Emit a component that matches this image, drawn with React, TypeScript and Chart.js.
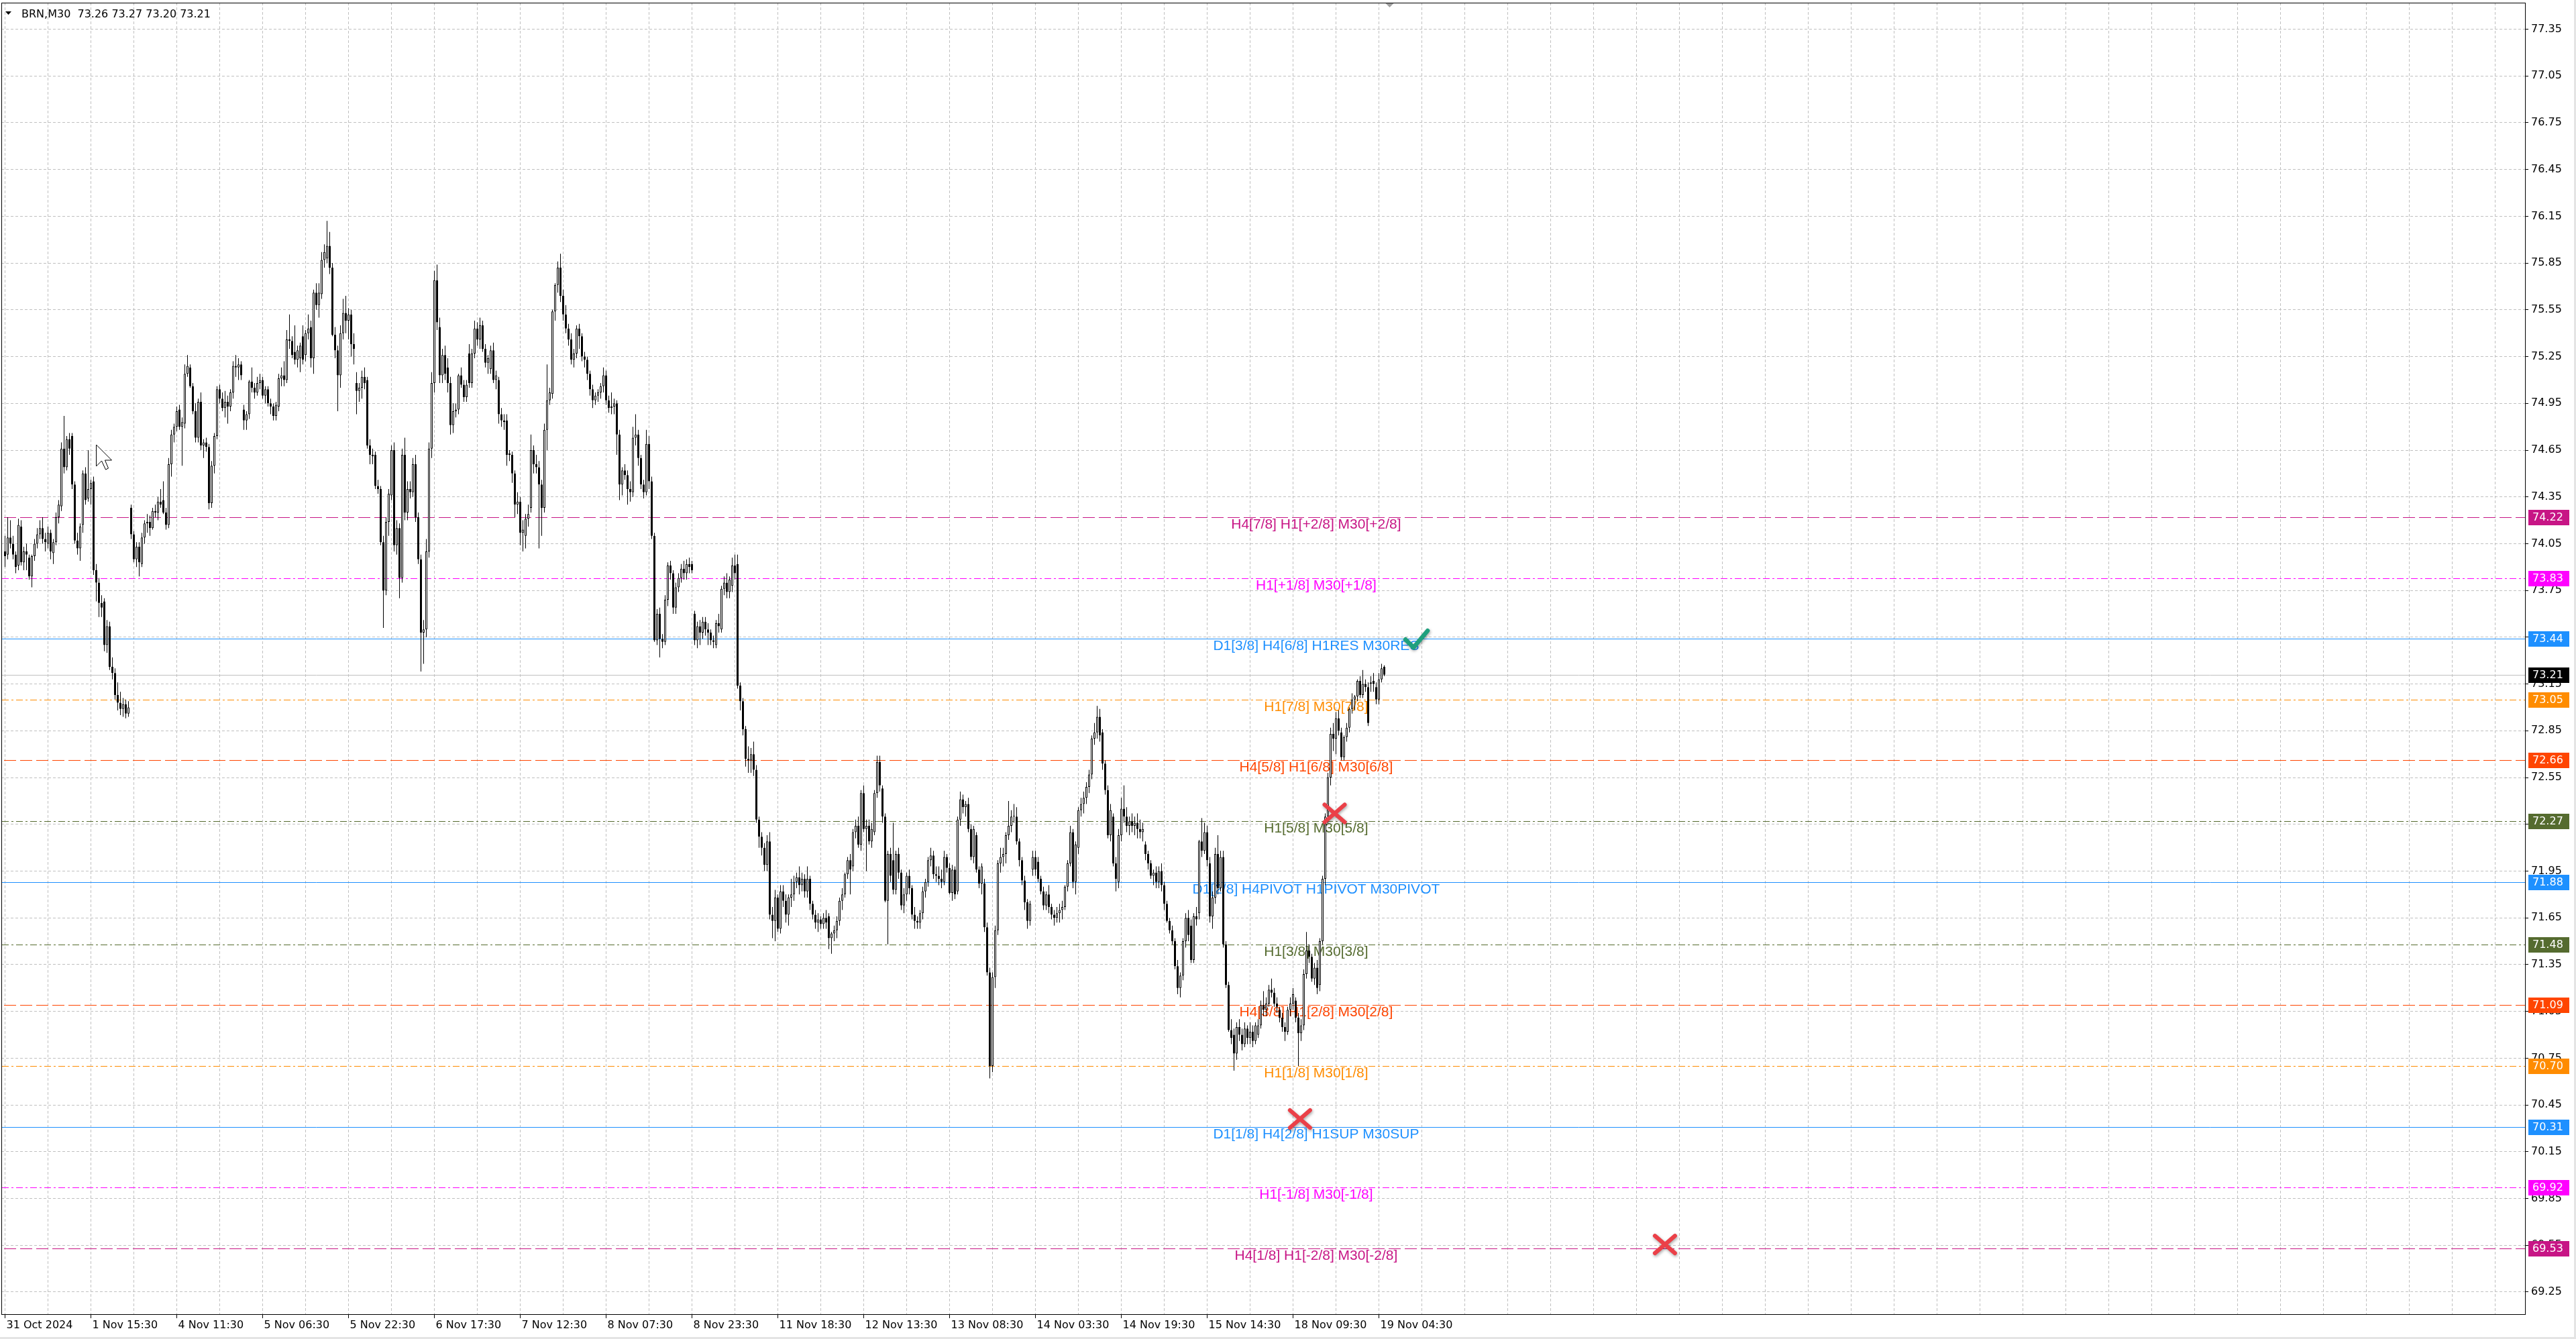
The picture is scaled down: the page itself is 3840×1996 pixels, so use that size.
import React, { useEffect, useRef } from 'react';
import { Chart, registerables } from 'chart.js';

Chart.register(...registerables);

type Bar = [number, number, number, number]; // open, high, low, close

const symbol = 'BRN,M30';

// ---- M30 candles, one array per trading day ----
const oct31: Bar[] = [
  [74.00,74.10,73.90,73.97],[73.98,74.22,73.95,74.09],[74.09,74.20,74.02,74.05],[74.05,74.10,73.95,73.98],
  [73.98,74.00,73.86,73.90],[73.91,74.21,73.88,74.17],[74.16,74.20,73.91,73.93],
];
const nov1: Bar[] = [
  [73.93,74.03,73.88,74.00],[74.00,74.05,73.88,73.98],[73.96,73.98,73.82,73.84],[73.84,73.98,73.77,73.97],
  [73.97,74.08,73.94,74.05],[74.05,74.15,74.02,74.11],[74.11,74.20,74.08,74.15],[74.15,74.22,74.05,74.08],
  [74.08,74.12,74.00,74.06],[74.05,74.16,74.02,74.12],[74.12,74.14,73.95,74.00],[73.99,74.08,73.92,74.06],
  [74.06,74.25,74.04,74.22],[74.22,74.33,74.18,74.30],[74.29,74.70,74.26,74.66],[74.66,74.87,74.50,74.54],
  [74.54,74.74,74.52,74.72],[74.72,74.76,74.62,74.66],[74.74,74.76,74.40,74.43],[74.43,74.45,74.05,74.07],
  [74.07,74.12,73.98,74.02],[74.02,74.18,73.94,74.16],[74.17,74.52,74.12,74.50],[74.50,74.54,74.30,74.33],
  [74.34,74.65,74.32,74.40],[74.40,74.46,74.30,74.44],[74.45,74.48,73.85,73.88],[73.88,73.92,73.68,73.80],
  [73.80,73.83,73.58,73.67],[73.67,73.72,73.58,73.64],[73.68,73.70,73.36,73.40],[73.40,73.56,73.35,73.52],
  [73.52,73.55,73.24,73.26],[73.26,73.32,73.18,73.22],[73.22,73.25,73.05,73.08],[73.08,73.16,72.98,73.03],
  [73.03,73.10,72.95,72.99],[72.99,73.06,72.94,73.02],[73.02,73.05,72.93,72.96],[72.96,73.04,72.94,73.00],
];
const nov4: Bar[] = [
  [74.28,74.30,74.08,74.11],[74.11,74.13,73.93,73.95],[73.95,74.06,73.90,74.03],[74.03,74.06,73.84,73.93],
  [73.92,74.12,73.90,74.09],[74.09,74.20,74.05,74.18],[74.18,74.24,74.12,74.19],[74.19,74.23,74.10,74.15],
  [74.15,74.28,74.14,74.26],[74.26,74.30,74.22,74.25],[74.25,74.35,74.20,74.32],[74.32,74.40,74.28,74.30],
  [74.33,74.45,74.24,74.25],[74.25,74.28,74.14,74.17],[74.17,74.60,74.15,74.56],[74.56,74.78,74.48,74.75],
  [74.75,74.82,74.70,74.80],[74.80,74.93,74.77,74.90],[74.91,74.94,74.78,74.80],[74.80,74.86,74.55,74.83],
  [74.82,75.20,74.79,75.14],[75.14,75.26,75.12,75.19],[75.18,75.20,75.05,75.06],[75.06,75.08,74.88,74.90],
  [74.90,74.95,74.70,74.73],[74.73,74.98,74.70,74.96],[74.96,75.02,74.65,74.68],[74.68,74.72,74.60,74.70],
  [74.70,74.73,74.64,74.67],[74.67,74.69,74.27,74.31],[74.31,74.58,74.28,74.55],[74.55,74.76,74.50,74.74],
  [74.74,75.06,74.72,75.04],[75.04,75.07,74.95,74.98],[74.98,75.02,74.90,74.92],[74.92,75.03,74.86,74.96],
  [74.96,75.00,74.82,74.93],[74.93,75.04,74.90,75.02],[75.02,75.22,74.98,75.19],[75.19,75.26,75.12,75.18],
  [75.18,75.24,75.10,75.20],[75.20,75.22,75.10,75.13],
];
const nov5: Bar[] = [
  [74.91,74.94,74.78,74.84],[74.84,74.90,74.78,74.88],[74.88,75.10,74.85,75.09],[75.09,75.18,75.02,75.05],
  [75.05,75.08,74.98,75.02],[75.02,75.12,75.00,75.08],[75.08,75.14,75.04,75.10],[75.10,75.12,74.98,75.00],
  [75.00,75.06,74.95,75.04],[75.04,75.06,74.93,74.95],[74.95,74.98,74.88,74.93],[74.93,74.95,74.84,74.87],
  [74.87,74.96,74.84,74.94],[74.93,75.14,74.90,75.11],[75.11,75.18,75.06,75.13],[75.13,75.22,75.06,75.10],
  [75.10,75.42,75.08,75.36],[75.36,75.52,75.30,75.35],[75.35,75.38,75.24,75.26],[75.28,75.45,75.20,75.23],
  [75.23,75.32,75.18,75.29],[75.24,75.34,75.15,75.32],[75.38,75.45,75.20,75.23],[75.26,75.42,75.22,75.40],
  [75.40,75.52,75.36,75.43],[75.44,75.48,75.18,75.24],[75.24,75.68,75.14,75.66],[75.66,75.72,75.55,75.58],
  [75.58,75.72,75.50,75.66],[75.65,75.92,75.62,75.87],[75.87,75.97,75.82,75.92],[75.88,76.12,75.85,75.96],
  [75.96,76.05,75.78,75.82],[75.82,75.85,75.38,75.39],[75.39,75.44,75.24,75.29],[75.29,75.32,74.90,75.13],
  [75.13,75.45,75.05,75.40],[75.40,75.62,75.36,75.53],[75.53,75.64,75.40,75.48],[75.48,75.56,75.36,75.52],
  [75.52,75.55,75.25,75.33],[75.33,75.40,75.20,75.30],
];
const nov6: Bar[] = [
  [75.08,75.15,74.88,75.03],[75.03,75.08,74.96,75.05],[75.05,75.16,74.98,75.12],[75.12,75.18,75.04,75.08],
  [75.10,75.12,74.66,74.68],[74.68,74.72,74.56,74.62],[74.62,74.66,74.56,74.61],[74.62,74.64,74.40,74.42],
  [74.42,74.46,74.37,74.40],[74.40,74.42,74.04,74.06],[74.06,74.10,73.51,73.75],[73.75,74.22,73.72,74.19],
  [74.19,74.40,74.10,74.37],[74.36,74.68,74.33,74.65],[74.65,74.70,74.00,74.04],[74.04,74.20,73.98,74.15],
  [74.15,74.18,73.70,73.83],[73.83,74.66,73.80,74.62],[74.62,74.73,74.20,74.25],[74.25,74.45,74.20,74.40],
  [74.40,74.45,74.34,74.38],[74.38,74.60,74.35,74.56],[74.56,74.62,74.19,74.22],[74.22,74.25,73.92,73.95],
  [73.95,73.98,73.23,73.48],[73.48,73.56,73.28,73.50],[73.50,74.08,73.45,74.00],[74.00,74.70,73.96,74.66],
  [74.66,75.15,74.60,75.08],[75.08,75.80,75.02,75.74],[75.74,75.84,75.42,75.47],[75.44,75.50,75.08,75.13],
  [75.13,75.30,75.08,75.26],[75.26,75.32,75.10,75.14],[75.18,75.24,75.02,75.08],[75.08,75.12,74.75,74.81],
  [74.81,74.95,74.76,74.90],[74.90,74.95,74.86,74.91],[74.91,75.14,74.88,75.13],[75.13,75.18,75.05,75.07],
  [75.07,75.10,74.96,74.99],[74.99,75.10,74.96,75.07],
];
const nov7: Bar[] = [
  [75.27,75.33,75.05,75.08],[75.08,75.30,75.05,75.27],[75.27,75.48,75.24,75.43],[75.43,75.47,75.32,75.36],
  [75.36,75.50,75.30,75.45],[75.45,75.48,75.28,75.30],[75.30,75.33,75.18,75.21],[75.21,75.26,75.14,75.24],
  [75.17,75.32,75.14,75.29],[75.29,75.34,75.08,75.10],[75.10,75.16,75.04,75.13],[75.10,75.12,74.82,74.88],
  [74.88,74.92,74.80,74.84],[74.84,74.88,74.78,74.83],[74.84,74.88,74.55,74.62],[74.62,74.65,74.58,74.63],
  [74.62,74.64,74.44,74.50],[74.50,74.52,74.22,74.30],[74.30,74.38,74.24,74.32],[74.32,74.35,74.04,74.12],
  [74.12,74.20,74.00,74.14],[74.10,74.24,74.02,74.21],[74.21,74.30,74.16,74.24],[74.28,74.75,74.25,74.65],
  [74.65,74.68,74.50,74.56],[74.56,74.62,74.50,74.54],[74.54,74.58,74.02,74.43],[74.43,74.46,74.10,74.28],
  [74.28,74.82,74.25,74.78],[74.78,75.20,74.65,74.97],[74.97,75.05,74.94,75.02],[75.01,75.55,74.98,75.54],
  [75.54,75.72,75.48,75.71],[75.71,75.86,75.66,75.82],[75.82,75.91,75.60,75.64],[75.64,75.68,75.48,75.52],
  [75.52,75.58,75.40,75.43],[75.43,75.46,75.32,75.36],[75.36,75.40,75.20,75.23],[75.23,75.30,75.18,75.27],
  [75.27,75.45,75.24,75.43],[75.43,75.46,75.30,75.38],
];
const nov8: Bar[] = [
  [75.38,75.40,75.22,75.25],[75.25,75.28,75.18,75.23],[75.23,75.25,75.10,75.14],[75.14,75.16,75.00,75.04],
  [75.04,75.07,74.92,74.97],[74.97,75.02,74.94,75.00],[75.00,75.04,74.96,75.02],[75.02,75.08,74.98,75.06],
  [75.06,75.18,75.02,75.13],[75.13,75.16,74.94,74.97],[74.97,75.00,74.89,74.92],[74.92,75.02,74.88,74.93],
  [74.93,74.98,74.88,74.95],[74.95,74.97,74.62,74.75],[74.75,74.78,74.33,74.43],[74.43,74.54,74.36,74.52],
  [74.52,74.56,74.46,74.49],[74.49,74.52,74.30,74.40],[74.40,74.45,74.32,74.38],[74.38,74.80,74.35,74.73],
  [74.73,74.88,74.68,74.75],[74.75,74.78,74.55,74.60],[74.60,74.62,74.40,74.43],[74.43,74.46,74.34,74.38],
  [74.38,74.78,74.36,74.69],[74.69,74.74,74.40,74.45],[74.45,74.48,74.08,74.10],[74.10,74.12,73.42,73.43],
  [73.43,73.63,73.40,73.60],[73.60,73.64,73.32,73.44],[73.44,73.47,73.38,73.42],[73.42,73.72,73.40,73.69],
  [73.69,73.93,73.65,73.91],[73.91,73.94,73.82,73.86],[73.86,73.88,73.60,73.64],[73.64,73.80,73.60,73.77],
  [73.77,73.86,73.74,73.83],[73.83,73.92,73.80,73.89],[73.89,73.94,73.82,73.86],[73.86,73.95,73.82,73.92],
  [73.92,73.96,73.86,73.90],[73.92,73.94,73.86,73.88],
];
const nov11: Bar[] = [
  [73.60,73.62,73.40,73.43],[73.43,73.55,73.38,73.52],[73.52,73.56,73.40,73.48],[73.48,73.58,73.44,73.55],
  [73.55,73.58,73.46,73.50],[73.50,73.54,73.40,73.48],[73.48,73.50,73.40,73.43],[73.43,73.46,73.38,73.42],
  [73.40,73.56,73.38,73.54],[73.54,73.60,73.48,73.52],[73.50,73.78,73.48,73.76],[73.76,73.84,73.72,73.80],
  [73.80,73.86,73.70,73.74],[73.74,73.84,73.70,73.82],[73.78,73.96,73.74,73.91],[73.91,73.98,73.82,73.86],
  [73.92,73.98,73.12,73.14],[73.14,73.16,72.98,73.04],[73.04,73.06,72.82,72.86],[72.86,72.88,72.62,72.67],
  [72.67,72.75,72.58,72.66],[72.66,72.74,72.58,72.70],[72.70,72.78,72.56,72.60],[72.60,72.63,72.26,72.28],
  [72.28,72.30,72.10,72.17],[72.17,72.20,72.05,72.10],[72.10,72.13,71.95,71.99],[71.99,72.18,71.95,72.14],
  [72.14,72.20,71.64,71.67],[71.67,71.72,71.52,71.63],[71.63,71.83,71.50,71.78],[71.78,71.80,71.56,71.58],
  [71.58,71.86,71.55,71.82],[71.82,71.86,71.72,71.76],[71.76,71.80,71.62,71.67],[71.67,71.80,71.60,71.78],
  [71.78,71.90,71.72,71.80],[71.80,71.92,71.76,71.88],[71.88,71.94,71.84,71.91],[71.91,71.98,71.80,71.86],
  [71.86,71.94,71.82,71.90],[71.90,71.93,71.78,71.82],
];
const nov12: Bar[] = [
  [71.82,71.98,71.78,71.90],[71.90,71.92,71.70,71.74],[71.74,71.76,71.64,71.67],[71.67,71.70,71.58,71.62],
  [71.62,71.68,71.56,71.64],[71.64,71.66,71.58,71.61],[71.61,71.68,71.58,71.65],[71.65,71.70,71.58,71.62],
  [71.66,71.68,71.45,71.52],[71.52,71.56,71.42,71.55],[71.55,71.60,71.50,71.57],[71.57,71.66,71.52,71.63],
  [71.63,71.78,71.60,71.76],[71.76,71.84,71.70,71.80],[71.80,71.94,71.78,71.93],[71.93,72.04,71.90,72.02],
  [72.02,72.06,71.80,71.96],[71.98,72.22,71.95,72.20],[72.20,72.28,72.16,72.24],[72.24,72.30,72.10,72.12],
  [72.12,72.47,72.08,72.45],[72.45,72.50,72.20,72.22],[72.22,72.28,71.95,72.24],[72.24,72.28,72.12,72.14],
  [72.14,72.26,72.10,72.22],[72.20,72.47,72.18,72.45],[72.45,72.69,72.42,72.65],[72.65,72.69,72.46,72.50],
  [72.48,72.50,72.26,72.30],[72.30,72.32,71.75,71.76],[71.76,72.08,71.48,72.06],[72.06,72.10,71.88,71.92],
  [72.02,72.26,71.80,71.83],[71.83,72.08,71.80,72.06],[72.06,72.10,71.90,71.94],[71.94,71.96,71.70,71.73],
  [71.73,71.84,71.68,71.80],[71.80,71.94,71.76,71.92],[71.92,71.96,71.80,71.84],[71.84,71.86,71.64,71.67],
  [71.67,71.72,71.58,71.63],[71.63,71.66,71.58,71.62],
];
const nov13: Bar[] = [
  [71.62,71.70,71.58,71.68],[71.68,71.85,71.64,71.82],[71.82,71.90,71.78,71.88],[71.88,72.04,71.85,72.02],
  [72.02,72.10,71.98,72.05],[72.05,72.08,71.90,71.93],[71.93,71.98,71.88,71.92],[71.92,71.98,71.86,71.90],
  [71.90,71.96,71.84,71.88],[71.88,72.08,71.86,72.04],[72.04,72.06,71.94,71.97],[71.97,72.00,71.80,71.81],
  [71.81,71.99,71.76,71.96],[71.96,71.98,71.77,71.80],[71.82,72.30,71.80,72.28],[72.28,72.46,72.24,72.41],
  [72.41,72.44,72.32,72.36],[72.36,72.40,72.30,72.38],[72.38,72.42,72.20,72.22],[72.22,72.25,72.02,72.04],
  [72.04,72.24,72.00,72.22],[72.18,72.20,71.94,71.96],[71.96,71.98,71.84,71.87],[71.87,72.00,71.80,71.98],
  [71.87,71.90,71.56,71.59],[71.59,71.62,71.28,71.30],[71.30,71.33,70.62,70.70],[70.70,71.30,70.66,71.27],
  [71.27,71.60,71.20,71.57],[71.57,72.02,71.54,72.00],[72.00,72.10,71.94,72.04],[72.04,72.10,71.98,72.06],
  [72.06,72.20,72.00,72.18],[72.18,72.40,72.15,72.24],[72.24,72.34,72.20,72.30],[72.30,72.38,72.26,72.30],
  [72.30,72.36,72.12,72.14],[72.14,72.16,71.98,72.02],[72.02,72.04,71.86,71.89],[71.89,71.92,71.70,71.75],
  [71.75,71.77,71.58,71.63],[71.63,71.76,71.60,71.74],
];
const nov14: Bar[] = [
  [71.96,72.08,71.92,72.04],[72.04,72.08,71.92,71.96],[72.01,72.04,71.88,71.90],[71.90,71.92,71.80,71.82],
  [71.82,71.85,71.70,71.73],[71.73,71.82,71.70,71.80],[71.80,71.86,71.68,71.72],[71.72,71.74,71.64,71.67],
  [71.67,71.70,71.60,71.65],[71.65,71.72,71.62,71.68],[71.68,71.74,71.62,71.70],[71.70,71.76,71.64,71.72],
  [71.72,71.86,71.70,71.85],[71.85,72.02,71.82,72.00],[72.00,72.24,71.98,72.20],[72.20,72.22,71.84,71.88],
  [71.88,72.14,71.80,72.12],[72.10,72.36,72.06,72.34],[72.34,72.42,72.30,72.38],[72.38,72.46,72.32,72.42],
  [72.42,72.52,72.38,72.49],[72.49,72.60,72.45,72.57],[72.57,72.82,72.54,72.80],[72.80,72.90,72.76,72.84],
  [72.84,73.01,72.80,72.94],[72.94,72.99,72.78,72.82],[72.84,72.86,72.60,72.64],[72.64,72.66,72.44,72.47],
  [72.47,72.50,72.16,72.18],[72.18,72.38,72.14,72.34],[72.30,72.32,71.98,72.00],[72.00,72.04,71.82,71.90],
  [71.88,72.22,71.84,72.18],[72.18,72.42,72.14,72.35],[72.35,72.50,72.26,72.30],[72.30,72.36,72.20,72.24],
  [72.24,72.30,72.18,72.27],[72.27,72.32,72.20,72.24],[72.24,72.30,72.18,72.26],[72.26,72.32,72.16,72.22],
  [72.22,72.28,72.16,72.20],[72.20,72.26,72.14,72.22],
];
const nov15: Bar[] = [
  [72.12,72.14,72.02,72.06],[72.06,72.08,71.96,72.00],[72.00,72.02,71.90,71.92],[71.92,71.96,71.86,71.94],
  [71.94,71.98,71.84,71.88],[71.88,71.98,71.84,71.95],[71.95,72.00,71.82,71.86],[71.86,71.88,71.70,71.74],
  [71.74,71.76,71.62,71.63],[71.63,71.65,71.55,71.57],[71.57,71.60,71.48,71.50],[71.50,71.52,71.32,71.34],
  [71.34,71.38,71.16,71.20],[71.20,71.30,71.14,71.28],[71.28,71.52,71.25,71.50],[71.50,71.68,71.46,71.65],
  [71.65,71.70,71.50,71.54],[71.60,71.64,71.36,71.38],[71.38,71.68,71.36,71.66],[71.66,71.72,71.60,71.64],
  [71.68,72.15,71.64,72.14],[72.14,72.29,72.04,72.08],[72.08,72.26,72.06,72.20],[72.20,72.24,71.98,72.02],
  [72.00,72.04,71.62,71.66],[71.66,71.82,71.58,71.78],[71.78,72.10,71.74,72.06],[72.06,72.18,71.80,71.84],
  [71.84,72.08,71.82,72.04],[72.04,72.08,71.46,71.48],[71.48,71.50,71.20,71.22],[71.22,71.24,70.92,70.93],
  [70.93,71.00,70.84,70.88],[70.90,70.94,70.67,70.78],[70.78,70.98,70.74,70.95],[70.95,71.00,70.86,70.90],
  [70.90,70.94,70.80,70.84],[70.84,70.98,70.82,70.94],[70.94,70.96,70.84,70.88],[70.88,70.98,70.84,70.92],
  [70.92,70.96,70.82,70.86],[70.86,70.98,70.84,70.96],
];
const nov18: Bar[] = [
  [70.90,71.00,70.88,70.96],[70.96,71.12,70.94,71.09],[71.09,71.18,71.02,71.06],[71.06,71.14,71.02,71.10],
  [71.10,71.22,71.08,71.19],[71.19,71.26,71.14,71.17],[71.17,71.20,71.08,71.10],[71.10,71.14,71.04,71.08],
  [71.06,71.08,70.98,71.01],[71.01,71.04,70.92,70.95],[70.95,70.98,70.86,70.92],[70.92,71.08,70.90,71.06],
  [71.06,71.14,71.02,71.10],[71.10,71.20,71.06,71.16],[71.12,71.14,70.98,71.01],[71.01,71.04,70.70,70.91],
  [70.91,71.00,70.86,70.96],[70.96,71.32,70.93,71.29],[71.29,71.56,71.26,71.44],[71.44,71.48,71.36,71.40],
  [71.40,71.42,71.24,71.26],[71.26,71.36,71.22,71.33],[71.33,71.38,71.16,71.20],[71.22,71.52,71.18,71.50],
  [71.50,71.92,71.48,71.90],[71.90,72.32,71.86,72.30],[72.30,72.58,72.26,72.55],[72.55,72.87,72.50,72.83],
  [72.83,72.90,72.72,72.80],[72.80,72.97,72.70,72.93],[72.93,72.98,72.82,72.85],[72.84,72.87,72.66,72.68],
  [72.68,72.82,72.66,72.81],[72.81,72.90,72.78,72.87],[72.87,73.00,72.84,72.99],[72.99,73.09,72.96,73.05],
  [73.05,73.08,72.98,73.07],[73.07,73.18,73.04,73.17],[73.17,73.20,73.06,73.08],[73.08,73.24,73.06,73.15],
  [73.15,73.18,73.10,73.13],[73.13,73.16,72.88,72.90],
];
const nov19: Bar[] = [
  [73.15,73.20,73.10,73.16],[73.17,73.22,73.10,73.15],[73.13,73.16,73.02,73.05],[73.05,73.22,73.02,73.18],
  [73.18,73.28,73.16,73.25],[73.26,73.27,73.20,73.21],
];

// ---- axis ticks ----
const xLabels = [
  '31 Oct 2024', '1 Nov 15:30', '4 Nov 11:30', '5 Nov 06:30', '5 Nov 22:30', '6 Nov 17:30',
  '7 Nov 12:30', '8 Nov 07:30', '8 Nov 23:30', '11 Nov 18:30', '12 Nov 13:30', '13 Nov 08:30',
  '14 Nov 03:30', '14 Nov 19:30', '15 Nov 14:30', '18 Nov 09:30', '19 Nov 04:30',
];
const yTicks = [
  69.25, 69.55, 69.85, 70.15, 70.45, 70.75, 71.05, 71.35, 71.65, 71.95, 72.25, 72.55, 72.85, 73.15,
  73.45, 73.75, 74.05, 74.35, 74.65, 74.95, 75.25, 75.55, 75.85, 76.15, 76.45, 76.75, 77.05, 77.35,
];

// ---- Murrey-style levels ----
const levelPrices = [74.22, 73.83, 73.44, 73.05, 72.66, 72.27, 71.88, 71.48, 71.09, 70.70, 70.31, 69.92, 69.53];
const levelTexts = [
  'H4[7/8] H1[+2/8] M30[+2/8]', 'H1[+1/8] M30[+1/8]', 'D1[3/8] H4[6/8] H1RES M30RES', 'H1[7/8] M30[7/8]',
  'H4[5/8] H1[6/8] M30[6/8]', 'H1[5/8] M30[5/8]', 'D1[2/8] H4PIVOT H1PIVOT M30PIVOT', 'H1[3/8] M30[3/8]',
  'H4[3/8] H1[2/8] M30[2/8]', 'H1[1/8] M30[1/8]', 'D1[1/8] H4[2/8] H1SUP M30SUP', 'H1[-1/8] M30[-1/8]',
  'H4[1/8] H1[-2/8] M30[-2/8]',
];
const levelColors = ['#C71585', '#FF00FF', '#1E90FF', '#FF8C00', '#FF4500', '#556B2F', '#1E90FF', '#556B2F', '#FF4500', '#FF8C00', '#1E90FF', '#FF00FF', '#C71585'];
const levelStyles = ['dash', 'dashdot', 'solid', 'dashdot', 'dash', 'dashdot', 'solid', 'dashdot', 'dash', 'dashdot', 'solid', 'dashdot', 'dash'];

// ---- signal marks (bar index, price) ----
const crossBars = [495.5, 482.6, 618.6];
const crossPrices = [72.32, 70.36, 69.555];
const checkBars = [525.9];
const checkPrices = [73.44];

// ---- layout constants ----
const W = 3840;
const H = 1996;
const X_MIN = -1.375;
const X_MAX = 939.125;
const Y_MIN = 69.108;
const Y_MAX = 77.52;
const LABEL_EVERY = 32;
const GRID_EVERY = 16;
const LEVEL_TEXT_BAR = 488.6;
const SHIFT_BAR = 516;

const candles: Bar[] = [oct31, nov1, nov4, nov5, nov6, nov7, nov8, nov11, nov12, nov13, nov14, nov15, nov18, nov19].flat();

const dashFor = (s: string) => (s === 'dash' ? [18, 6] : s === 'dashdot' ? [10, 4, 3, 4] : []);

export default function App() {
  const ref = useRef<HTMLCanvasElement | null>(null);

  useEffect(() => {
    document.body.style.margin = '0';
    const canvas = ref.current;
    if (!canvas) return;

    const last = candles[candles.length - 1];
    const bid = last[3];

    const levelDatasets = levelPrices.map((p, k) => ({
      type: 'line' as const,
      data: [{ x: X_MIN - 5, y: p }, { x: X_MAX + 5, y: p }],
      borderColor: levelColors[k],
      borderWidth: 1,
      borderDash: dashFor(levelStyles[k]),
      pointRadius: 0,
      order: 10,
      snapY: p,
    }));

    const gridTicks: number[] = [];
    for (let v = 0; v <= X_MAX; v += GRID_EVERY) gridTicks.push(v);

    const fontAxis = { family: '"DejaVu Sans", Verdana, sans-serif', size: 16 };

    const overlay = {
      id: 'mt4overlay',
      beforeDraw(chart: any) {
        const { ctx } = chart;
        ctx.save();
        ctx.fillStyle = '#ffffff';
        ctx.fillRect(0, 0, W, H);
        ctx.restore();
      },
      beforeDatasetDraw(chart: any, args: any) {
        const ds: any = chart.data.datasets[args.index];
        if (ds && typeof ds.snapY === 'number') {
          const y = chart.scales.y.getPixelForValue(ds.snapY);
          chart.ctx.save();
          chart.ctx.translate(0, Math.round(y) + 0.5 - y);
        }
      },
      afterDatasetDraw(chart: any, args: any) {
        const ds: any = chart.data.datasets[args.index];
        if (ds && typeof ds.snapY === 'number') chart.ctx.restore();
      },
      beforeDatasetsDraw(chart: any) {
        const { ctx, chartArea: a, scales } = chart;
        const xs = scales.x, ys = scales.y;
        ctx.save();
        ctx.beginPath();
        ctx.rect(a.left, a.top, a.right - a.left, a.bottom - a.top);
        ctx.clip();
        ctx.font = '21px "Liberation Sans", Arial, sans-serif';
        ctx.textAlign = 'center';
        ctx.textBaseline = 'top';
        const cx = xs.getPixelForValue(LEVEL_TEXT_BAR);
        levelPrices.forEach((p, k) => {
          ctx.fillStyle = levelColors[k];
          ctx.fillText(levelTexts[k], cx, Math.round(ys.getPixelForValue(p)) + 1);
        });
        ctx.restore();
      },
      afterDatasetsDraw(chart: any) {
        const { ctx, chartArea: a, scales } = chart;
        const xs = scales.x, ys = scales.y;

        // marks
        ctx.save();
        ctx.beginPath();
        ctx.rect(a.left, a.top, a.right - a.left, a.bottom - a.top);
        ctx.clip();
        ctx.lineCap = 'round';
        ctx.lineJoin = 'round';
        ctx.shadowColor = 'rgba(0,0,0,0.35)';
        ctx.shadowBlur = 4;
        ctx.shadowOffsetX = 1;
        ctx.shadowOffsetY = 2;
        crossBars.forEach((b, k) => {
          const px = xs.getPixelForValue(b);
          const py = ys.getPixelForValue(crossPrices[k]);
          ctx.strokeStyle = '#EB4048';
          ctx.lineWidth = 6;
          ctx.beginPath();
          ctx.moveTo(px - 15, py - 13);
          ctx.lineTo(px + 15, py + 13);
          ctx.moveTo(px + 15, py - 13);
          ctx.lineTo(px - 15, py + 13);
          ctx.stroke();
        });
        checkBars.forEach((b, k) => {
          const px = xs.getPixelForValue(b);
          const py = ys.getPixelForValue(checkPrices[k]);
          ctx.strokeStyle = '#1FA07E';
          ctx.lineWidth = 6.5;
          ctx.beginPath();
          ctx.moveTo(px - 16, py + 1);
          ctx.lineTo(px - 4, py + 13);
          ctx.lineTo(px + 17, py - 12);
          ctx.stroke();
        });
        ctx.restore();

        // mouse cursor left in the screenshot
        ctx.save();
        const cx0 = 143.5, cy0 = 663;
        ctx.beginPath();
        ctx.moveTo(cx0, cy0);
        ctx.lineTo(cx0, cy0 + 32);
        ctx.lineTo(cx0 + 8, cy0 + 24);
        ctx.lineTo(cx0 + 14, cy0 + 37);
        ctx.lineTo(cx0 + 18, cy0 + 35);
        ctx.lineTo(cx0 + 13, cy0 + 23);
        ctx.lineTo(cx0 + 23, cy0 + 23);
        ctx.closePath();
        ctx.fillStyle = '#ffffff';
        ctx.fill();
        ctx.strokeStyle = '#000000';
        ctx.lineWidth = 1;
        ctx.stroke();
        ctx.restore();

        // frame
        ctx.save();
        ctx.strokeStyle = '#000000';
        ctx.lineWidth = 1;
        ctx.strokeRect(a.left + 0.5, a.top + 0.5, a.right - a.left, a.bottom - a.top);
        ctx.restore();

        // chart shift marker
        ctx.save();
        const sx = xs.getPixelForValue(SHIFT_BAR);
        ctx.fillStyle = '#a0a0a0';
        ctx.beginPath();
        ctx.moveTo(sx - 6, a.top + 1);
        ctx.lineTo(sx + 6, a.top + 1);
        ctx.lineTo(sx, a.top + 7);
        ctx.closePath();
        ctx.fill();
        ctx.restore();

        // price boxes on the axis
        ctx.save();
        ctx.font = '16px "DejaVu Sans", Verdana, sans-serif';
        ctx.textBaseline = 'middle';
        ctx.textAlign = 'left';
        const box = (p: number, bg: string) => {
          const py = Math.round(ys.getPixelForValue(p));
          ctx.fillStyle = bg;
          ctx.fillRect(a.right + 5, py - 11, 61, 23);
          ctx.fillStyle = '#ffffff';
          ctx.fillText(p.toFixed(2), a.right + 11, py + 1);
        };
        levelPrices.forEach((p, k) => box(p, levelColors[k]));
        box(bid, '#000000');
        ctx.restore();

        // header
        ctx.save();
        ctx.fillStyle = '#000000';
        ctx.beginPath();
        ctx.moveTo(8, 17);
        ctx.lineTo(17, 17);
        ctx.lineTo(12.5, 22);
        ctx.closePath();
        ctx.fill();
        ctx.font = '16px "DejaVu Sans", Verdana, sans-serif';
        ctx.textBaseline = 'alphabetic';
        ctx.textAlign = 'left';
        ctx.fillText(`${symbol}  ${last[0].toFixed(2)} ${last[1].toFixed(2)} ${last[2].toFixed(2)} ${last[3].toFixed(2)}`, 32, 26);
        ctx.restore();

        // window edges
        ctx.save();
        ctx.fillStyle = '#e4e4e4';
        ctx.fillRect(0, H - 3, W, 3);
        ctx.fillRect(W - 3, 0, 3, H);
        ctx.restore();
      },
    };

    const chart = new Chart(canvas, {
      type: 'bar',
      data: {
        datasets: [
          ...levelDatasets,
          {
            type: 'line' as const,
            data: [{ x: X_MIN - 5, y: bid }, { x: X_MAX + 5, y: bid }],
            borderColor: '#c0c0c0',
            borderWidth: 1,
            pointRadius: 0,
            order: 9,
            snapY: bid,
          },
          {
            type: 'bar' as const,
            data: candles.map((c, i) => ({ x: i, y: [c[2], c[1]] })),
            barThickness: 1,
            backgroundColor: '#000000',
            borderWidth: 0,
            grouped: false,
            inflateAmount: 0,
            order: 2,
          },
          {
            type: 'bar' as const,
            data: candles.map((c, i) => ({ x: i, y: [c[0], c[3]] })),
            barThickness: 3,
            backgroundColor: candles.map((c) => (c[3] >= c[0] ? '#ffffff' : '#000000')),
            borderColor: '#000000',
            borderWidth: 1,
            borderSkipped: false,
            minBarLength: 1,
            grouped: false,
            inflateAmount: 0,
            order: 1,
          },
        ] as any,
      },
      options: {
        animation: false,
        responsive: false,
        devicePixelRatio: 1,
        events: [],
        layout: { padding: { left: 2, top: 4, right: 0, bottom: 0 } },
        plugins: { legend: { display: false }, tooltip: { enabled: false } },
        scales: {
          x: {
            type: 'linear',
            position: 'bottom',
            min: X_MIN,
            max: X_MAX,
            offset: false,
            afterBuildTicks: (s: any) => { s.ticks = gridTicks.map((v) => ({ value: v })); },
            afterFit: (s: any) => { s.height = 37; s.paddingLeft = 0; s.paddingRight = 0; },
            ticks: {
              autoSkip: false,
              maxRotation: 0,
              minRotation: 0,
              align: 'start',
              labelOffset: 2,
              padding: 1,
              color: '#000000',
              font: fontAxis,
              callback: (v: any) => {
                const n = Number(v);
                return n % LABEL_EVERY === 0 ? (xLabels[n / LABEL_EVERY] ?? '') : '';
              },
            },
            grid: {
              color: '#c0c0c0',
              lineWidth: 1,
              offset: false,
              drawTicks: true,
              tickLength: 6,
              tickColor: (ctx: any) => (ctx.tick && ctx.tick.value % LABEL_EVERY === 0 && ctx.tick.value / LABEL_EVERY < xLabels.length ? '#000000' : 'rgba(0,0,0,0)'),
            },
            border: { display: false, dash: [4, 3] },
          },
          y: {
            type: 'linear',
            position: 'right',
            min: Y_MIN,
            max: Y_MAX,
            beginAtZero: false,
            afterBuildTicks: (s: any) => { s.ticks = yTicks.map((v) => ({ value: v })); },
            afterFit: (s: any) => { s.width = 76; s.paddingTop = 0; s.paddingBottom = 0; },
            ticks: {
              color: '#000000',
              font: fontAxis,
              padding: 4,
              callback: (v: any) => Number(v).toFixed(2),
            },
            grid: { color: '#c0c0c0', lineWidth: 1, drawTicks: true, tickLength: 5, tickColor: '#000000' },
            border: { display: false, dash: [4, 3] },
          },
        },
      } as any,
      plugins: [overlay],
    });

    return () => chart.destroy();
  }, []);

  return <canvas ref={ref} width={W} height={H} style={{ display: 'block', width: W, height: H }} />;
}
